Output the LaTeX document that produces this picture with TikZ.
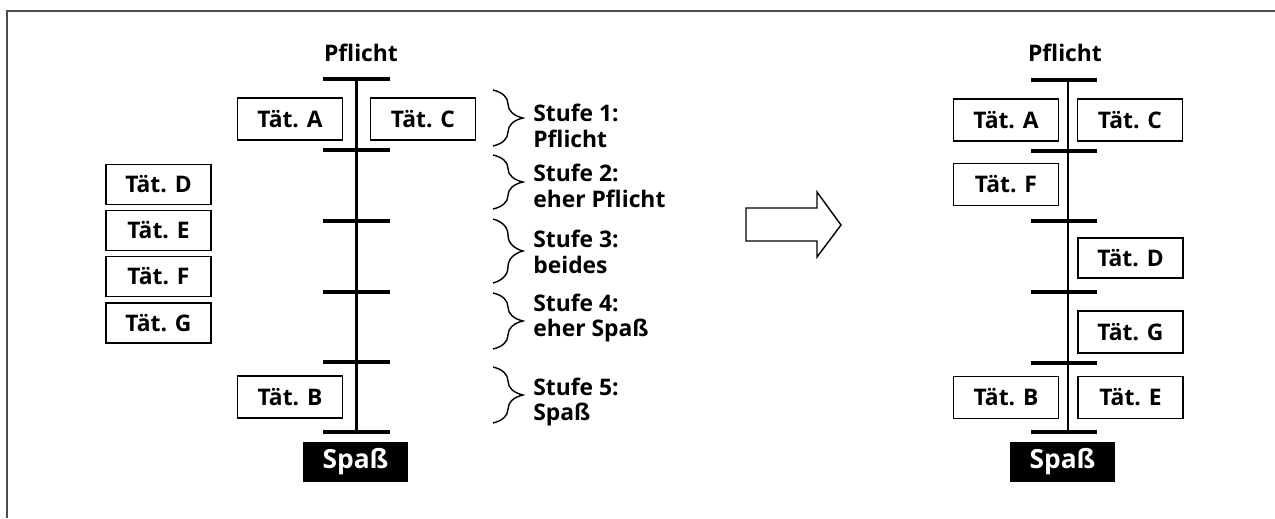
\documentclass[tikz,border=0pt]{standalone}
\usepackage{fontspec}
\setmainfont{Open Sans}
\usetikzlibrary{decorations.pathreplacing, positioning}
\tikzset{every node/.style={font=\bfseries\fontsize{13}{14}\selectfont}}
\tikzset{
	taet/.style={draw, line width=0.8pt, minimum width=2.1cm, minimum height=0.84cm, inner sep=0pt},
	spass/.style={fill=black, text=white, minimum width=2.1cm, minimum height=0.8cm, inner sep=0pt,
		font=\bfseries\fontsize{15}{16}\selectfont},
	strich/.style={line width=2pt},
	achse/.style={line width=1.6pt},
	klammer/.style={decorate, decoration={brace, amplitude=0.6cm}, line width=0.8pt},
	stufe/.style={anchor=west, align=left, inner sep=0pt, font=\bfseries\fontsize{13}{14.5}\selectfont},
}

\begin{document}
\begin{tikzpicture}[x=0.02cm, y=-0.02cm]
	\useasboundingbox (0,0) rectangle (1275,518);
	% rahmen
	\draw[gray!60!black, line width=1pt] (1275,11) -- (7,11) -- (7,518);
	
	% skala links
	\coordinate (lo) at (356.5,79);
	\coordinate (lu) at (356.5,432);
	\draw[achse] (lo) -- (lu);
	\foreach \y in {79,150,221,292,362,432}
		\draw[strich] (323,\y) -- (390,\y);
	\node (pfl) at (361,53) {Pflicht};
	\node[spass] (spl) at (355.5,462) {Spaß};
	
	\node[taet] (la) at (290,119) {Tät. A};
	\node[taet] (lc) at (423,119) {Tät. C};
	\node[taet] (lb) at (290,397) {Tät. B};
	
	\node[taet, minimum height=0.8cm] (ld) at (158.5,184.5) {Tät. D};
	\node[taet, minimum height=0.8cm] (le) at (158.5,230.5) {Tät. E};
	\node[taet, minimum height=0.8cm] (lf) at (158.5,276.5) {Tät. F};
	\node[taet, minimum height=0.8cm] (lg) at (158.5,323) {Tät. G};
	
	% stufen
	\foreach \i/\o/\u/\t/\txt in {1/90/146/126/Pflicht, 2/155/209/186/eher Pflicht, 3/219/283/252/beides, 4/293/349/318/eher Spaß, 5/367/423/402/Spaß}{
		\draw[klammer] (493,\o) -- (493,\u);
		\node[stufe] (stufe\i) at (533,\t) {Stufe \i:\\\txt};
	}
	
	% pfeil
	\draw[line width=0.8pt] (746,208) -- (817,208) -- (817,192) -- (841,225)
		-- (817,257) -- (817,241) -- (746,241) -- cycle;
	
	% skala rechts
	\coordinate (ro) at (1068,80);
	\coordinate (ru) at (1068,432);
	\draw[achse] (ro) -- (ru);
	\foreach \y in {80,151,221,292,363,432}
		\draw[strich] (1031,\y) -- (1097,\y);
	\node (pfr) at (1065,53) {Pflicht};
	\node[spass] (spr) at (1062.5,462) {Spaß};
	
	\node[taet] (ra) at (1006,120) {Tät. A};
	\node[taet] (rc) at (1130,120) {Tät. C};
	\node[taet] (rf) at (1006,184.5) {Tät. F};
	\node[taet, minimum height=0.8cm] (rd) at (1130.5,258) {Tät. D};
	\node[taet] (rg) at (1130.5,332) {Tät. G};
	\node[taet] (rb) at (1006,397.5) {Tät. B};
	\node[taet] (re) at (1130.5,397.5) {Tät. E};
\end{tikzpicture}
\end{document}
